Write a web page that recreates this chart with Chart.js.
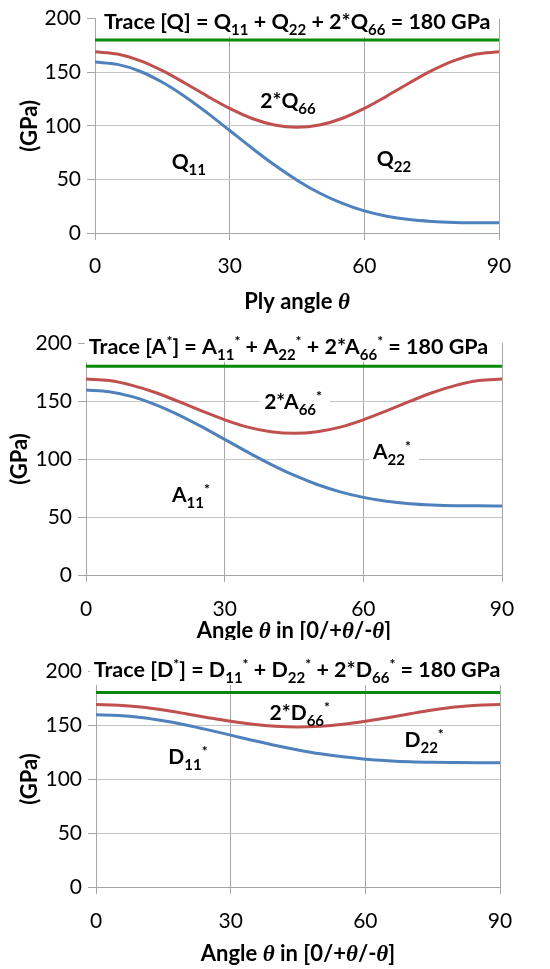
<!DOCTYPE html>
<html>
<head>
<meta charset="utf-8">
<title>Trace of stiffness matrices</title>
<script src="https://cdn.jsdelivr.net/npm/chart.js@4/dist/chart.umd.min.js"></script>
<style>
  html, body { margin: 0; padding: 0; background: #fff; }
  canvas { position: absolute; left: 0; }
</style>
</head>
<body>
<canvas id="chartQ" width="550" height="320" style="top:0"></canvas>
<canvas id="chartA" width="550" height="320" style="top:320px"></canvas>
<canvas id="chartD" width="550" height="329" style="top:640px"></canvas>
<script>
// ply angle (deg) and values in GPa
const angles = [0, 5, 10, 15, 20, 25, 30, 35, 40, 45, 50, 55, 60, 65, 70, 75, 80, 85, 90];
const trace = [180, 180, 180, 180, 180, 180, 180, 180, 180, 180, 180, 180, 180, 180, 180, 180, 180, 180, 180];

const q11 = [159.5, 157.3, 150.9, 140.6, 127.4, 112.1, 95.6, 79.1, 63.4, 49.3, 37.3, 27.8, 20.6, 15.6, 12.5, 10.8, 9.9, 9.6, 9.5];
const q11q22 = [169.0, 166.9, 160.8, 151.4, 139.9, 127.7, 116.2, 106.8, 100.7, 98.6, 100.7, 106.8, 116.2, 127.7, 139.9, 151.4, 160.8, 166.9, 169.0];

const a11 = [159.5, 158.0, 153.8, 146.9, 138.1, 127.9, 116.9, 105.9, 95.4, 86.0, 78.0, 71.7, 66.9, 63.6, 61.5, 60.4, 59.8, 59.6, 59.5];
const a11a22 = [169.0, 167.6, 163.5, 157.3, 149.6, 141.5, 133.8, 127.5, 123.5, 122.1, 123.5, 127.5, 133.8, 141.5, 149.6, 157.3, 163.5, 167.6, 169.0];

const d11 = [159.5, 158.9, 157.0, 153.9, 150.0, 145.5, 140.6, 135.7, 131.0, 126.9, 123.3, 120.5, 118.3, 116.9, 115.9, 115.4, 115.2, 115.1, 115.1];
const d11d22 = [169.0, 168.4, 166.6, 163.8, 160.4, 156.8, 153.4, 150.6, 148.8, 148.1, 148.8, 150.6, 153.4, 156.8, 160.4, 163.8, 166.6, 168.4, 169.0];

const xTicks = [0, 30, 60, 90];
const yTicks = [0, 50, 100, 150, 200];

const FONT = 'Lato';

// rich text: [text, kind] with kind n = normal, sub, sup, th = italic theta
function segFont(kind, size) {
  if (kind === 'sub') return 'bold ' + Math.round(size * 0.7) + 'px ' + FONT;
  if (kind === 'sup') return 'bold ' + Math.round(size * 0.66) + 'px ' + FONT;
  if (kind === 'th') return 'italic bold ' + (size + 1) + 'px "Liberation Serif"';
  return 'bold ' + size + 'px ' + FONT;
}
function segShift(kind) {
  if (kind === 'sub') return 6;
  if (kind === 'sup') return -8;
  return 0;
}
function richWidth(ctx, segs, size) {
  let w = 0;
  segs.forEach(s => { ctx.font = segFont(s[1], size); w += ctx.measureText(s[0]).width; });
  return w;
}
function drawRich(ctx, segs, x, base, size) {
  ctx.fillStyle = '#000';
  ctx.textAlign = 'left';
  ctx.textBaseline = 'alphabetic';
  segs.forEach(s => {
    ctx.font = segFont(s[1], size);
    ctx.fillText(s[0], x, base + segShift(s[1]));
    x += ctx.measureText(s[0]).width;
  });
}

function labelPlugin(labels, xTitle, xTitleOffset) {
  function place(chart, l) {
    const ctx = chart.ctx;
    const w = richWidth(ctx, l.segs, l.size);
    let x = chart.scales.x.getPixelForValue(l.x);
    if (l.align === 'center') x -= w / 2;
    const y = chart.scales.y.getPixelForValue(l.y);
    return { x, y, w };
  }
  return {
    id: 'richLabels',
    beforeDatasetsDraw(chart) {
      const ctx = chart.ctx;
      ctx.save();
      ctx.fillStyle = '#fff';
      labels.forEach(l => {
        const p = place(chart, l);
        ctx.fillRect(p.x - 4, p.y - 14, p.w + 12, 29);
      });
      ctx.restore();
    },
    afterDatasetsDraw(chart) {
      const ctx = chart.ctx;
      ctx.save();
      labels.forEach(l => {
        const p = place(chart, l);
        drawRich(ctx, l.segs, p.x, p.y + 7, l.size);
      });
      const a = chart.chartArea;
      const w = richWidth(ctx, xTitle, 22);
      drawRich(ctx, xTitle, (a.left + a.right) / 2 - w / 2, a.bottom + xTitleOffset + 8, 22);
      ctx.restore();
    }
  };
}

function buildChart(id, lower, upper, box, labels, xTitle) {
  const pts = vals => angles.map((a, i) => ({ x: a, y: vals[i] }));
  const line = (vals, color) => ({
    data: pts(vals),
    borderColor: color,
    borderWidth: 3,
    pointRadius: 0,
    cubicInterpolationMode: 'monotone',
    fill: false
  });
  const tickFont = { family: FONT, size: 21 };
  return new Chart(document.getElementById(id), {
    type: 'line',
    data: {
      datasets: [
        line(trace, '#0a8a0a'),
        line(upper, '#c0504d'),
        line(lower, '#4f81bd')
      ]
    },
    options: {
      responsive: false,
      animation: false,
      layout: { padding: { top: box.top, right: 550 - box.right, left: 0, bottom: 0 } },
      plugins: { legend: { display: false }, tooltip: { enabled: false } },
      scales: {
        x: {
          type: 'linear',
          min: 0,
          max: 90,
          afterBuildTicks: s => { s.ticks = xTicks.map(v => ({ value: v })); },
          afterFit: s => { s.height = box.height - box.bottom; },
          grid: { color: '#a6a6a6', tickColor: '#a6a6a6', tickLength: 7 },
          border: { color: '#a6a6a6' },
          ticks: { font: tickFont, color: '#000', padding: box.xPad, maxRotation: 0 }
        },
        y: {
          min: 0,
          max: 200,
          afterBuildTicks: s => { s.ticks = yTicks.map(v => ({ value: v })); },
          afterFit: s => { s.width = box.left; },
          grid: {
            color: c => (c.tick && c.tick.value === 200) ? 'rgba(0,0,0,0)' : '#c4c4c4',
            tickColor: '#a6a6a6',
            tickLength: 8
          },
          border: { color: '#a6a6a6' },
          ticks: { font: tickFont, color: '#000', padding: 6 },
          title: {
            display: true,
            text: '(GPa)',
            color: '#000',
            font: { family: FONT, size: 22, weight: 'bold' },
            padding: { top: box.yTitlePad, bottom: 0 }
          }
        }
      }
    },
    plugins: [labelPlugin(labels, xTitle, box.xTitle)]
  });
}

const TS = 21.5; // in-plot title size
const LS = 21;   // curve label size

buildChart('chartQ', q11, q11q22,
  { left: 95, right: 499, top: 13, bottom: 233, height: 320, xPad: 14, yTitlePad: 17, xTitle: 68 },
  [
    { align: 'left', x: 2, y: 197, size: TS, segs: [['Trace [Q] = Q', 'n'], ['11', 'sub'], [' + Q', 'n'], ['22', 'sub'], [' + 2*Q', 'n'], ['66', 'sub'], [' = 180 GPa', 'n']] },
    { align: 'center', x: 43, y: 123.6, size: LS, segs: [['2*Q', 'n'], ['66', 'sub']] },
    { align: 'center', x: 20.9, y: 66.4, size: LS, segs: [['Q', 'n'], ['11', 'sub']] },
    { align: 'center', x: 66.6, y: 69, size: LS, segs: [['Q', 'n'], ['22', 'sub']] }
  ],
  [['Ply angle ', 'n'], ['\u03b8', 'th']]);

buildChart('chartA', a11, a11a22,
  { left: 86, right: 502, top: 23, bottom: 255, height: 320, xPad: 15, yTitlePad: 7, xTitle: 55 },
  [
    { align: 'left', x: 0.6, y: 196.5, size: TS, segs: [['Trace [A', 'n'], ['*', 'sup'], ['] = A', 'n'], ['11', 'sub'], ['*', 'sup'], [' + A', 'n'], ['22', 'sub'], ['*', 'sup'], [' + 2*A', 'n'], ['66', 'sub'], ['*', 'sup'], [' = 180 GPa', 'n']] },
    { align: 'center', x: 44.8, y: 149.1, size: LS, segs: [['2*A', 'n'], ['66', 'sub'], ['*', 'sup']] },
    { align: 'center', x: 66.2, y: 106, size: LS, segs: [['A', 'n'], ['22', 'sub'], ['*', 'sup']] },
    { align: 'center', x: 22.7, y: 69, size: LS, segs: [['A', 'n'], ['11', 'sub'], ['*', 'sup']] }
  ],
  [['Angle ', 'n'], ['\u03b8', 'th'], [' in [0/+', 'n'], ['\u03b8', 'th'], ['/-', 'n'], ['\u03b8', 'th'], [']', 'n']]);

buildChart('chartD', d11, d11d22,
  { left: 96, right: 500, top: 31, bottom: 247, height: 329, xPad: 15, yTitlePad: 17, xTitle: 66 },
  [
    { align: 'left', x: -0.5, y: 200.9, size: TS, segs: [['Trace [D', 'n'], ['*', 'sup'], ['] = D', 'n'], ['11', 'sub'], ['*', 'sup'], [' + D', 'n'], ['22', 'sub'], ['*', 'sup'], [' + 2*D', 'n'], ['66', 'sub'], ['*', 'sup'], [' = 180 GPa', 'n']] },
    { align: 'center', x: 45.4, y: 161, size: LS, segs: [['2*D', 'n'], ['66', 'sub'], ['*', 'sup']] },
    { align: 'center', x: 73.1, y: 136, size: LS, segs: [['D', 'n'], ['22', 'sub'], ['*', 'sup']] },
    { align: 'center', x: 20.5, y: 120.4, size: LS, segs: [['D', 'n'], ['11', 'sub'], ['*', 'sup']] }
  ],
  [['Angle ', 'n'], ['\u03b8', 'th'], [' in [0/+', 'n'], ['\u03b8', 'th'], ['/-', 'n'], ['\u03b8', 'th'], [']', 'n']]);
</script>
</body>
</html>
